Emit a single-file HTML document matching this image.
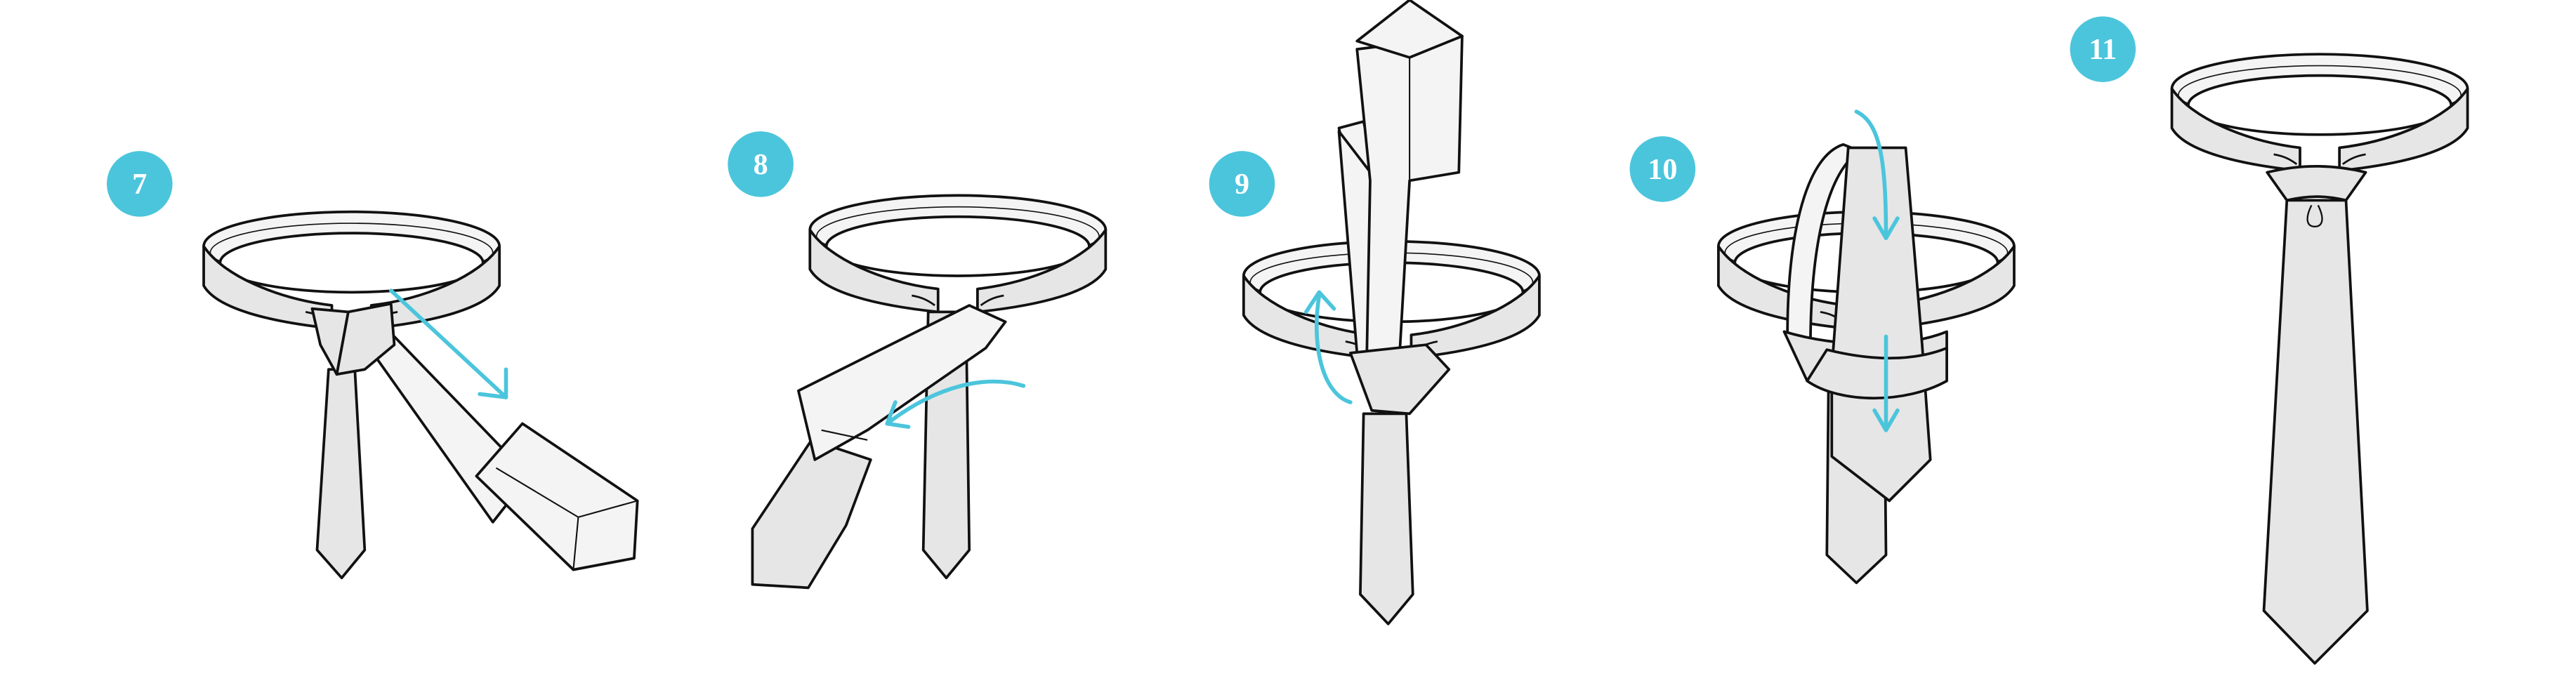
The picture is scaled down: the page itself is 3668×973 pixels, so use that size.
<!DOCTYPE html>
<html><head><meta charset="utf-8"><style>
html,body{margin:0;padding:0;background:#fff;}
svg{display:block;}
text{font-family:"Liberation Serif",serif;font-weight:bold;fill:#fff;}
</style></head><body>
<svg width="3668" height="973" viewBox="0 0 1568 416" preserveAspectRatio="none" xmlns="http://www.w3.org/2000/svg">
<defs>
<g id="collar" stroke="#111" stroke-width="1.6" stroke-linejoin="round">
  <ellipse cx="90" cy="22" rx="90" ry="21" fill="#f4f4f4"/>
  <ellipse cx="90" cy="26" rx="86" ry="18" fill="none" stroke-width="0.7"/>
  <ellipse cx="90" cy="32" rx="80" ry="18" fill="#fff"/>
  <path d="M0,22 C12,40 45,54 78,58 L78,72 C40,68 8,60 0,46 Z" fill="#e6e6e6"/>
  <path d="M180,22 C168,40 135,54 102,58 L102,72 C140,68 172,60 180,46 Z" fill="#e6e6e6"/>
  <path d="M62,62 C68,63 72,65 76,68" fill="none" stroke-width="1.2"/>
  <path d="M118,62 C112,63 108,65 104,68" fill="none" stroke-width="1.2"/>
</g>
</defs>
<g fill="#4bc5dc">
<circle cx="85" cy="112" r="20"/><circle cx="463" cy="100" r="20"/><circle cx="756" cy="112" r="20"/><circle cx="1012" cy="103" r="20"/><circle cx="1280" cy="30" r="20"/>
</g>
<g font-size="18" text-anchor="middle">
<text x="85" y="118">7</text><text x="463" y="106">8</text><text x="756" y="118">9</text><text x="1012" y="109">10</text><text x="1280" y="36">11</text>
</g>
<g stroke="#111" stroke-width="1.6" stroke-linejoin="round" fill="#f4f4f4">
<!-- 7 -->
<use href="#collar" transform="translate(124,128)"/>
<polygon points="300,318 222,208 240,205 322,290" />
<polygon points="200,225 216,225 222,335 208,352 193,335" fill="#e6e6e6"/>
<polygon points="290,290 318,258 388,305 386,340 349,347" />
<polyline points="349,347 352,315 388,305" fill="none" stroke-width="0.9"/>
<line x1="302" y1="285" x2="352" y2="315" stroke-width="0.9"/>
<polygon points="190,188 212,190 205,228 195,210" fill="#e6e6e6"/>
<polygon points="212,190 238,185 240,210 222,225 205,228" fill="#e6e6e6"/>
<!-- 8 -->
<use href="#collar" transform="translate(493,118)"/>
<polygon points="565,190 588,190 590,335 576,352 562,335" fill="#e6e6e6"/>
<polygon points="494,268 530,280 515,320 492,358 458,356 458,322" fill="#e6e6e6"/>
<polygon points="486,238 590,186 612,196 600,212 528,262 496,280" />
<line x1="500" y1="262" x2="528" y2="268" stroke-width="0.9"/>
<!-- 9 -->
<use href="#collar" transform="translate(757,146)"/>
<polygon points="830,252 856,252 860,362 845,380 828,362" fill="#e6e6e6"/>
<polygon points="815,78 830,74 838,110 822,112" />
<polygon points="815,80 838,110 852,215 826,215" />
<polygon points="826,30 890,22 888,105 858,110 852,215 832,215 834,110" />
<polygon points="826,25 858,0 890,22 858,35" />
<line x1="858" y1="35" x2="858" y2="110" stroke-width="0.9"/>
<polygon points="822,215 868,210 882,225 858,252 835,250" fill="#e6e6e6"/>
<!-- 10 -->
<use href="#collar" transform="translate(1046,128)"/>
<polygon points="1113,235 1147,235 1148,338 1130,355 1112,338" fill="#e6e6e6"/>
<path d="M1088,205 C1088,140 1100,95 1122,88 L1132,92 C1112,105 1102,150 1102,212 Z" />
<path d="M1086,202 C1120,212 1160,212 1185,202 L1185,232 C1160,246 1120,246 1100,232 Z" fill="#e6e6e6"/>
<polygon points="1125,90 1160,90 1170,210 1175,280 1150,305 1115,278 1115,225" fill="#e6e6e6"/>
<path d="M1112,213 C1140,220 1165,220 1185,212 L1185,232 C1160,246 1120,246 1100,232 Z" fill="#e6e6e6"/>
<!-- 11 -->
<use href="#collar" transform="translate(1322,32)"/>
<polygon points="1392,122 1428,122 1441,372 1409,404 1378,372" fill="#e6e6e6"/>
<path d="M1380,105 C1400,100 1420,100 1440,105 L1428,122 C1415,119 1405,119 1392,122 Z" fill="#e6e6e6"/>
<path d="M1407,125 C1403,133 1404,138 1409,138 C1414,138 1415,133 1411,125" fill="none" stroke-width="1"/>
</g>
<g stroke="#4bc5dc" stroke-width="2.4" fill="none" stroke-linecap="round" stroke-linejoin="round">
<line x1="238" y1="177" x2="308" y2="242"/><polyline points="292,240 308,242 308,225"/>
<path d="M623,235 C600,228 570,235 540,258"/><polyline points="545,245 540,258 553,260"/>
<path d="M822,245 C805,240 798,210 803,180"/><polyline points="795,190 803,178 812,188"/>
<path d="M1130,68 C1145,75 1148,100 1148,145"/><polyline points="1141,133 1148,145 1155,133"/>
<line x1="1148" y1="205" x2="1148" y2="262"/><polyline points="1141,250 1148,262 1155,250"/>
</g>
</svg>
</body></html>
